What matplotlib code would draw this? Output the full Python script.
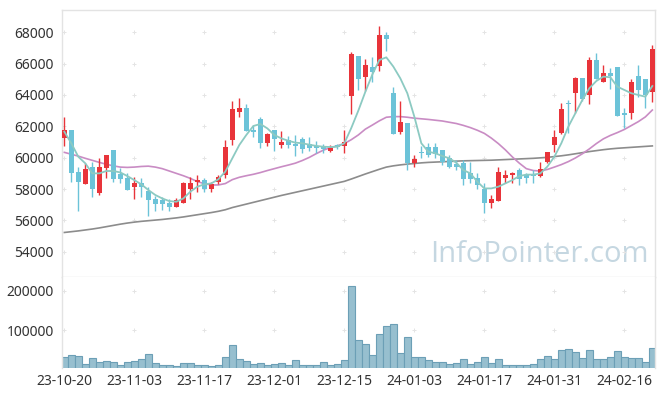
import matplotlib
matplotlib.use("Agg")
import matplotlib.pyplot as plt
import numpy as np

plt.rcParams['font.family'] = ['Noto Sans', 'DejaVu Sans']

# ---- data ----
opens = [61280, 61770, 59090, 58300, 59380, 57770, 59360, 60470, 58980, 58700,
         58150, 58380, 57870, 57340, 57300, 57090, 56870, 57130, 58020, 58450,
         58550, 58020, 58470, 58920, 61130, 62940, 63170, 61770, 62470, 60960,
         61770, 60830, 61110, 60890, 61170, 60870, 60750, 60660, 60450, 60810,
         60745, 63960, 66490, 65170, 65790, 65870, 67830, 64130, 61660, 62190,
         59640, 60380, 60660, 60700, 60490, 59960, 59600, 59640, 59000, 58700,
         58000, 57090, 57255, 58720, 58870, 59210, 58890, 58940, 58850, 59700,
         60810, 61550, 63510, 64150, 65085, 64000, 66230, 64850, 65380, 65790,
         62830, 62870, 65210, 65020, 64170]
closes = [61770, 59040, 58470, 59250, 58020, 59380, 60150, 58640, 58640, 57960,
          58380, 58150, 57300, 57060, 57060, 56870, 57280, 58380, 58380, 58570,
          58020, 58340, 58770, 60680, 63110, 63170, 61720, 61660, 60960, 61510,
          61170, 61000, 60830, 60770, 60570, 60640, 60620, 60530, 60640, 60660,
          61020, 66620, 65020, 65915, 65490, 67830, 67570, 61530, 62280, 59680,
          59890, 60280, 60150, 60230, 59745, 59430, 59425, 58640, 58640, 58280,
          57090, 57360, 59085, 58890, 59000, 58640, 58680, 58850, 59280, 60360,
          61340, 63110, 63430, 65085, 63745, 66230, 65020, 65380, 65210, 62680,
          62720, 64830, 64320, 63980, 66940]
highs = [62570, 61770, 59420, 59640, 59750, 59960, 60150, 60470, 59320, 59000,
         58750, 58700, 58150, 57550, 57510, 57340, 57430, 58470, 58750, 58890,
         58680, 58470, 58890, 61130, 63620, 63810, 63400, 62090, 62620, 61600,
         61770, 61720, 61380, 61470, 61340, 61340, 61060, 60870, 60810, 60900,
         61770, 66760, 66490, 66280, 66400, 68400, 68040, 64490, 63620, 62190,
         60170, 60740, 60960, 60960, 60490, 60170, 59850, 59850, 59750, 59000,
         58360, 57620, 59380, 59210, 59100, 59320, 59000, 59210, 59750, 60360,
         61770, 63470, 63680, 65170, 65085, 66400, 66660, 65910, 65700, 65790,
         63150, 65000, 65910, 65020, 67190]
lows = [60770, 58470, 56620, 58300, 57470, 57620, 58680, 58470, 58360, 57960,
        57360, 57510, 56280, 56620, 56660, 56570, 56870, 57130, 57340, 57790,
        57790, 57790, 58320, 58680, 60810, 62620, 61720, 61340, 60600, 60770,
        60450, 60640, 60640, 60110, 60280, 60450, 60280, 60280, 60360, 60570,
        60280, 62770, 64320, 64280, 64850, 65550, 66810, 61530, 61510, 59210,
        59380, 59960, 60060, 59960, 59530, 59320, 59210, 58260, 58360, 57980,
        56450, 56770, 57255, 58360, 58360, 58260, 58360, 58360, 58790, 59640,
        60380, 61510, 61550, 62830, 63600, 63430, 65020, 64850, 64360, 62680,
        61870, 62450, 63890, 63150, 63570]
ma5 = [61660, 60920, 60060, 59640, 59000, 59000, 59150, 59150, 59060, 58830,
       58570, 58300, 57940, 57620, 57400, 57230, 57190, 57400, 57830, 58150,
       58300, 58360, 58620, 59110, 59960, 60810, 61450, 62020, 62150, 61870,
       61450, 61230, 61080, 60960, 60920, 60830, 60750, 60700, 60680, 60700,
       60920, 61900, 63000, 64200, 65300, 66230, 66400, 65810, 65060, 64110,
       62620, 60920, 60380, 60280, 60110, 59960, 59680, 59210, 59000, 58470,
       58040, 58040, 58150, 58360, 58570, 58830, 58920, 58920, 59000, 59430,
       60060, 60920, 61980, 62830, 63680, 64430, 64890, 65170, 65130, 64530,
       64320, 64110, 64000, 63890, 64570]
ma20 = [60340, 60220, 60100, 59960, 59830, 59700, 59580, 59480, 59400, 59380,
        59400, 59440, 59460, 59400, 59300, 59150, 59000, 58850, 58680, 58480,
        58340, 58260, 58260, 58350, 58600, 58750, 58850, 58940, 59050, 59180,
        59300, 59420, 59530, 59650, 59820, 60020, 60260, 60480, 60640, 60760,
        60900, 61150, 61450, 61820, 62080, 62350, 62580, 62620, 62620, 62580,
        62520, 62480, 62440, 62390, 62340, 62260, 62180, 62060, 61920, 61750,
        61550, 61250, 60900, 60500, 60050, 59650, 59300, 59180, 59150, 59250,
        59400, 59560, 59750, 59980, 60250, 60560, 60900, 61200, 61420, 61600,
        61800, 62050, 62300, 62600, 63040]
ma60 = [55230, 55280, 55330, 55390, 55450, 55520, 55600, 55680, 55760, 55830,
        55890, 55940, 55980, 56020, 56060, 56110, 56160, 56220, 56290, 56360,
        56430, 56500, 56580, 56680, 56820, 56930, 57040, 57150, 57260, 57370,
        57480, 57590, 57690, 57790, 57890, 57990, 58090, 58190, 58290, 58390,
        58490, 58640, 58800, 58960, 59110, 59260, 59400, 59480, 59540, 59590,
        59630, 59670, 59700, 59720, 59740, 59760, 59780, 59800, 59810, 59820,
        59830, 59840, 59860, 59880, 59900, 59920, 59940, 59960, 59990, 60020,
        60070, 60120, 60180, 60250, 60320, 60390, 60450, 60510, 60560, 60600,
        60630, 60660, 60690, 60720, 60750]
volumes = [30500, 35600, 33000, 12700, 28000, 17800, 20300, 17800, 10200, 17800,
           20300, 25400, 38100, 15200, 10200, 10200, 7600, 15200, 15200, 10200,
           10200, 7600, 10200, 30500, 61000, 25400, 20300, 12700, 15200, 10200,
           12700, 15200, 10200, 22900, 10200, 10200, 10200, 17800, 10200, 12700,
           22900, 211800, 73700, 63500, 35600, 88900, 109300, 114400, 40700, 81300,
           30500, 30500, 22900, 17800, 17800, 12700, 15200, 25400, 12700, 17800,
           30500, 15200, 25400, 10200, 10200, 10200, 10200, 12700, 25400, 33000,
           25400, 48300, 50800, 43200, 28000, 48300, 25400, 25400, 30500, 45700,
           30500, 28000, 28000, 17800, 53400]
tick_labels = ["23-10-20", "23-11-03", "23-11-17", "23-12-01", "23-12-15",
               "24-01-03", "24-01-17", "24-01-31", "24-02-16"]
price_ticks = [54000, 56000, 58000, 60000, 62000, 64000, 66000, 68000]
volume_ticks = [100000, 200000]

# ---- figure ----
W, H = 665, 396
fig = plt.figure(figsize=(W / 100, H / 100), dpi=100)
fig.patch.set_facecolor('white')

def fx(px):
    return px / W

def fy(py):
    return 1 - py / H

L, R = 62, 655
ax = fig.add_axes([fx(L), fy(277), fx(R) - fx(L), fy(10) - fy(277)])
axv = fig.add_axes([fx(L), fy(368), fx(R) - fx(L), fy(277) - fy(368)])

n = len(closes)
x = np.arange(n)
o = np.array(opens); c = np.array(closes)
h = np.array(highs); l = np.array(lows)
up = c >= o
RED = '#e8343a'
BLUE = '#6cc3d8'
cols = np.where(up, RED, BLUE)

xlim = (-0.33, n - 1 + 0.38)
tick_pos = list(range(0, n, 10))[:len(tick_labels)]
grid_c = '#e4e4e4'
spine_c = '#e3e3e3'

# grid "+" markers
gx, gy = np.meshgrid(tick_pos, price_ticks)
ax.scatter(gx.ravel(), gy.ravel(), marker='+', s=8, c=grid_c, linewidths=0.7, zorder=1)

# moving averages
ax.plot(x, ma60, color='#8c8c8c', lw=1.2, zorder=2)
ax.plot(x, ma20, color='#c98cc4', lw=1.2, zorder=2)

# candles
ax.vlines(x, l, h, colors=cols, lw=1.0, zorder=3)
body_b = np.minimum(o, c)
body_h = np.maximum(np.abs(c - o), 60)
ax.bar(x, body_h, bottom=body_b, width=0.72, color=cols, edgecolor='none', zorder=4)

ax.plot(x, ma5, color='#8ccac2', lw=1.3, zorder=5)

ax.set_xlim(*xlim)
ax.set_ylim(52390, 69420)
ax.set_yticks(price_ticks)
ax.set_yticklabels([str(t) for t in price_ticks])
ax.set_xticks([])
ax.tick_params(axis='y', length=0, pad=6, labelsize=10, labelcolor='#333333')
for s in ax.spines.values():
    s.set_color(spine_c)
    s.set_linewidth(1.0)

ax.text(0.805, 0.085, 'InfoPointer.com', transform=ax.transAxes, ha='center', va='center',
        fontsize=21, color='#c5d7e1', family=['Open Sans', 'DejaVu Sans'], zorder=0)

# volume
gxv, gyv = np.meshgrid(tick_pos, volume_ticks)
axv.scatter(gxv.ravel(), gyv.ravel(), marker='+', s=8, c=grid_c, linewidths=0.7, zorder=1)
axv.bar(x, volumes, width=1.0, color='#97bfcf', edgecolor='#6c9fb6', linewidth=0.8, zorder=2)
axv.set_xlim(*xlim)
axv.set_ylim(3300, 234900)
axv.set_yticks(volume_ticks)
axv.set_yticklabels([str(t) for t in volume_ticks])
axv.set_xticks(tick_pos)
axv.set_xticklabels(tick_labels)
axv.tick_params(axis='both', length=0, labelsize=10, labelcolor='#333333')
axv.tick_params(axis='y', pad=6)
axv.tick_params(axis='x', pad=4)
for k, s in axv.spines.items():
    s.set_color(spine_c)
    s.set_linewidth(1.0)
axv.spines['bottom'].set_visible(False)
axv.spines['top'].set_visible(False)

fig.savefig('out.png', dpi=100)
